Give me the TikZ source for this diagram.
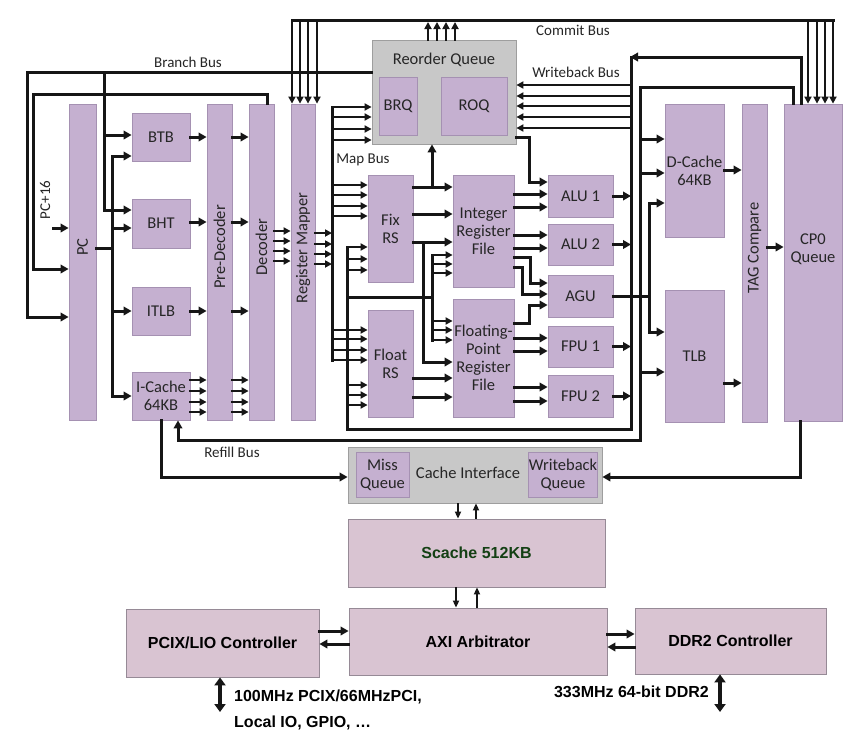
\documentclass[tikz,border=0pt]{standalone}
\usepackage{fontspec}
\setmainfont{Carlito}
\newfontfamily\arialfont{Liberation Sans}
\usepackage{tikz}
\usetikzlibrary{arrows.meta}
\definecolor{boxpurple}{RGB}{197,176,208}
\definecolor{boxedge}{RGB}{165,145,178}
\definecolor{queuegray}{RGB}{200,200,200}
\definecolor{queueedge}{RGB}{158,158,158}
\definecolor{socpink}{RGB}{217,196,210}
\definecolor{socedge}{RGB}{150,138,150}
\definecolor{scachegreen}{RGB}{20,64,20}
\definecolor{wire}{RGB}{22,22,22}

\begin{document}
\begin{tikzpicture}[
    x=1pt, y=-1pt,
    unit/.style={rectangle, draw=boxedge, fill=boxpurple, line width=0.8pt, inner sep=0pt, font=\fontsize{16.5}{18}\selectfont, align=center, text=black!85},
    wh/.style 2 args={minimum width=#1, minimum height=#2},
    queue/.style={unit, draw=queueedge, fill=queuegray},
    soc/.style={rectangle, draw=socedge, fill=socpink, line width=0.8pt, inner sep=0pt, font=\arialfont\bfseries\fontsize{16}{18}\selectfont},
    vlabel/.style={rotate=90, inner sep=0pt, font=\fontsize{16.5}{18}\selectfont, text=black!85},
    buslabel/.style={inner sep=0pt, font=\fontsize{15}{17}\selectfont, text=black!85},
    iolabel/.style={inner sep=0pt, font=\arialfont\bfseries\fontsize{16}{18}\selectfont},
    bus/.style={draw=wire, line width=3pt, line cap=rect},
    arrow/.style={bus, -{Triangle[length=8pt, width=8.5pt]}},
    narrow/.style={bus, line width=2.7pt, -{Triangle[length=7pt, width=7pt]}},
    thin/.style={draw=wire, line width=1.8pt, -{Triangle[length=7pt, width=6pt]}},
    duplex/.style={draw=wire, line width=4pt, {Triangle[length=8pt, width=11pt]}-{Triangle[length=8pt, width=11pt]}},
]
\useasboundingbox (0,0) rectangle (865,747);
\fill[white] (0,0) rectangle (865,747);

% Fetch stage
\node[unit, wh={27}{316}] (pc) at (82.5,262) {};
\node[vlabel] (pctext) at (82.5,247) {PC};
\node[unit, wh={58}{48}] (btb) at (161,137) {BTB};
\node[unit, wh={58}{49}] (bht) at (161,223.5) {BHT};
\node[unit, wh={58}{48}] (itlb) at (161,311) {ITLB};
\node[unit, wh={58}{48}] (icache) at (161,396) {I-Cache\\64KB};
\node[unit, wh={25}{316}] (predec) at (219.5,262) {};
\node[vlabel] (predectext) at (219.5,247) {Pre-Decoder};
\node[unit, wh={25}{316}] (decoder) at (261.5,262) {};
\node[vlabel] (decodertext) at (261.5,247) {Decoder};
\node[unit, wh={24}{316}] (regmap) at (303,262) {};
\node[vlabel] (regmaptext) at (303,248) {Register Mapper};

% Reorder queue
\node[queue, wh={144}{104}] (rq) at (444,92) {};
\node[buslabel, font=\fontsize{16.5}{18}\selectfont] (rqtext) at (444,60) {Reorder Queue};
\node[unit, wh={38}{58}] (brq) at (398,106) {BRQ};
\node[unit, wh={66}{58}] (roq) at (474,106) {ROQ};

% Issue and register files
\node[unit, wh={45}{107}] (fixrs) at (390.5,228.5) {Fix\\RS};
\node[unit, wh={45}{107}] (floatrs) at (390.5,363.5) {Float\\RS};
\node[unit, wh={61}{112}] (intrf) at (483.5,231) {Integer\\Register\\File};
\node[unit, wh={61}{118}] (fprf) at (483.5,358) {Floating-\\Point\\Register\\File};

% Function units
\node[unit, wh={65}{42}] (alu1) at (580.5,196) {ALU 1};
\node[unit, wh={65}{41}] (alu2) at (580.5,244.5) {ALU 2};
\node[unit, wh={65}{42}] (agu) at (580.5,296) {AGU};
\node[unit, wh={65}{41}] (fpu1) at (580.5,346.5) {FPU 1};
\node[unit, wh={65}{42}] (fpu2) at (580.5,396) {FPU 2};

% Memory stage
\node[unit, wh={59}{133}] (dcache) at (694.5,170.5) {D-Cache\\64KB};
\node[unit, wh={59}{132}] (tlb) at (694.5,356) {TLB};
\node[unit, wh={25}{318}] (tag) at (754.5,263) {};
\node[vlabel] (tagtext) at (754.5,248) {TAG Compare};
\node[unit, wh={58}{317}] (cp0) at (813,262.5) {};
\node[buslabel, font=\fontsize{16.5}{18}\selectfont, align=center] (cp0text) at (813,249) {CP0\\Queue};

% Cache interface and SoC
\node[queue, wh={254}{56}] (ci) at (475,475) {};
\node[unit, wh={53}{45}] (missq) at (382.5,474.5) {Miss\\Queue};
\node[unit, wh={68}{45}] (wbq) at (563,474.5) {Writeback\\Queue};
\node[buslabel, font=\fontsize{16.5}{18}\selectfont] (citext) at (468,473) {Cache Interface};
\node[soc, wh={257}{68}, text=scachegreen] (scache) at (476.5,553) {Scache 512KB};
\node[soc, wh={258}{67}] (axi) at (478,641.5) {AXI Arbitrator};
\node[soc, wh={193}{68}] (pcix) at (222.5,643) {PCIX/LIO Controller};
\node[soc, wh={191}{66}] (ddr) at (730.5,641) {DDR2 Controller};

% Bus labels
\node[buslabel] (branchlbl) at (188,62) {Branch Bus};
\node[buslabel] (commitlbl) at (573,30) {Commit Bus};
\node[buslabel] (wblbl) at (576,72) {Writeback Bus};
\node[buslabel] (maplbl) at (363,160) {Map Bus};
\node[buslabel] (refilllbl) at (232,452) {Refill Bus};
\node[buslabel, rotate=90] (pc16lbl) at (45,200) {PC+16};

% Branch bus
\draw[arrow] (rq.west |- 0,72) -- (27,72) |- (pc.west |- 0,317);
\draw[bus] (104,72) -- (104,210);
\draw[arrow] (104,135) -- (btb.west |- 0,135);
\draw[arrow] (104,210) -- (bht.west |- 0,210);
\draw[arrow] (decoder.north -| 267,0) |- (33,94) |- (pc.west |- 0,269);
\draw[arrow] (53,228) -- (pc.west |- 0,228);

% PC to fetch units
\draw[bus] (pc.east |- 0,248) -- (112,248);
\draw[bus] (112,156) -- (112,396);
\foreach \n/\y in {btb/156, bht/228, itlb/311, icache/396}
    \draw[arrow] (112,\y) -- (\n.west |- 0,\y);
\foreach \n/\y in {btb/137, bht/222, itlb/311} {
    \draw[arrow] (\n.east |- 0,\y) -- (predec.west |- 0,\y);
    \draw[arrow] (predec.east |- 0,\y) -- (decoder.west |- 0,\y);
}
\foreach \y in {380,391,402,412} {
    \draw[narrow] (icache.east |- 0,\y) -- (predec.west |- 0,\y);
    \draw[narrow] (predec.east |- 0,\y) -- (decoder.west |- 0,\y);
}
\foreach \y in {231,241,251,261}
    \draw[narrow] (decoder.east |- 0,\y) -- (regmap.west |- 0,\y);

% Commit bus
\draw[bus] (292,20) -- (833,20);
\foreach \x in {292,300,308,317}
    \draw[narrow] (\x,20) -- (regmap.north -| \x,0);
\foreach \x in {808,817,825,833}
    \draw[narrow] (\x,20) -- (cp0.north -| \x,0);
\foreach \x in {428,437,446,455}
    \draw[narrow] (rq.north -| \x,0) -- (\x,22);

% Map bus
\draw[bus] (332,107) -- (332,360);
\foreach \y in {233,244,254,264}
    \draw[narrow] (regmap.east |- 0,\y) -- (332,\y);
\foreach \y in {107,117,129,140}
    \draw[narrow] (332,\y) -- (rq.west |- 0,\y);
\foreach \y in {185,195,206,216}
    \draw[narrow] (332,\y) -- (fixrs.west |- 0,\y);
\foreach \y in {330,339,350,360}
    \draw[narrow] (332,\y) -- (floatrs.west |- 0,\y);

% Writeback bus
\draw[arrow] (cp0.north -| 801,0) |- (630,57);
\draw[bus] (631,57) -- (631,429) -| (347,247);
\foreach \y in {85,96,106,117,128}
    \draw[narrow] (631,\y) -- (rq.east |- 0,\y);
\foreach \n in {alu1,alu2,fpu1,fpu2}
    \draw[arrow] (\n.east) -- (\n.east -| 631,0);
\foreach \y in {247,259,270}
    \draw[narrow] (347,\y) -- (fixrs.west |- 0,\y);
\foreach \y in {385,395,405}
    \draw[narrow] (347,\y) -- (floatrs.west |- 0,\y);
\draw[bus] (347,297) -- (432,297);
\draw[bus] (432,255) -- (432,340);
\foreach \y in {255,264,273}
    \draw[narrow] (432,\y) -- (intrf.west |- 0,\y);
\foreach \y in {321,330,340}
    \draw[narrow] (432,\y) -- (fprf.west |- 0,\y);

% Reservation stations to register files
\draw[arrow] (fixrs.east |- 0,187) -- (intrf.west |- 0,187);
\draw[arrow] (432,187) -- (rq.south -| 432,0);
\draw[arrow] (fixrs.east |- 0,214) -- (intrf.west |- 0,214);
\draw[arrow] (fixrs.east |- 0,242) -- (intrf.west |- 0,242);
\draw[arrow] (423,242) |- (fprf.west |- 0,362);
\draw[arrow] (floatrs.east |- 0,378) -- (fprf.west |- 0,378);
\draw[arrow] (floatrs.east |- 0,397) -- (fprf.west |- 0,397);

% Register files to function units
\draw[arrow] (rq.east |- 0,137) -| (529,182) -- (alu1.west |- 0,182);
\foreach \y in {194,207}
    \draw[arrow] (intrf.east |- 0,\y) -- (alu1.west |- 0,\y);
\foreach \y in {235,248}
    \draw[arrow] (intrf.east |- 0,\y) -- (alu2.west |- 0,\y);
\draw[arrow] (intrf.east |- 0,257) -| (530,283) -- (agu.west |- 0,283);
\draw[arrow] (intrf.east |- 0,267) -| (522,294) -- (agu.west |- 0,294);
\draw[arrow] (fprf.east |- 0,323) -| (529,305) -- (agu.west |- 0,305);
\foreach \y in {338,351}
    \draw[arrow] (fprf.east |- 0,\y) -- (fpu1.west |- 0,\y);
\foreach \y in {387,401}
    \draw[arrow] (fprf.east |- 0,\y) -- (fpu2.west |- 0,\y);

% Address path
\draw[arrow] (agu.east) -| (649,203) -- (dcache.west |- 0,203);
\draw[arrow] (649,296) |- (tlb.west |- 0,332);
\draw[arrow] (cp0.north -| 793,0) |- (640,87) |- (dcache.west |- 0,139);
\draw[arrow] (640,173) -- (dcache.west |- 0,173);
\draw[arrow] (640,372) -- (tlb.west |- 0,372);
\draw[arrow] (640,139) -- (640,440) -| (icache.south -| 178,0);
\draw[arrow] (dcache.east |- 0,170) -- (tag.west |- 0,170);
\draw[arrow] (tlb.east |- 0,383) -- (tag.west |- 0,383);
\draw[arrow] (tag.east |- 0,247) -- (cp0.west |- 0,247);

% Cache interface
\draw[arrow] (icache.south -| 161,0) |- (ci.west |- 0,477);
\draw[arrow] (cp0.south -| 800,0) |- (ci.east |- 0,477);
\draw[thin] (ci.south -| 458,0) -- (scache.north -| 458,0);
\draw[thin] (scache.north -| 476,0) -- (ci.south -| 476,0);
\draw[thin] (scache.south -| 456,0) -- (axi.north -| 456,0);
\draw[thin] (axi.north -| 477,0) -- (scache.south -| 477,0);

% SoC links
\draw[arrow] (pcix.east |- 0,631) -- (axi.west |- 0,631);
\draw[arrow] (axi.west |- 0,644) -- (pcix.east |- 0,644);
\draw[arrow] (axi.east |- 0,634) -- (ddr.west |- 0,634);
\draw[arrow] (ddr.west |- 0,647) -- (axi.east |- 0,647);
\coordinate (pciio) at (220,712);
\coordinate (ddrio) at (720,712);
\draw[duplex] (pcix.south -| pciio) -- (pciio);
\draw[duplex] (ddr.south -| ddrio) -- (ddrio);
\node[iolabel, anchor=west] (pcilbl1) at (234,697) {100MHz PCIX/66MHzPCI,};
\node[iolabel, anchor=west] (pcilbl2) at (234,723) {Local IO, GPIO, …};
\node[iolabel, anchor=east] (ddrlbl) at (709,692) {333MHz 64-bit DDR2};

\end{tikzpicture}
\end{document}
